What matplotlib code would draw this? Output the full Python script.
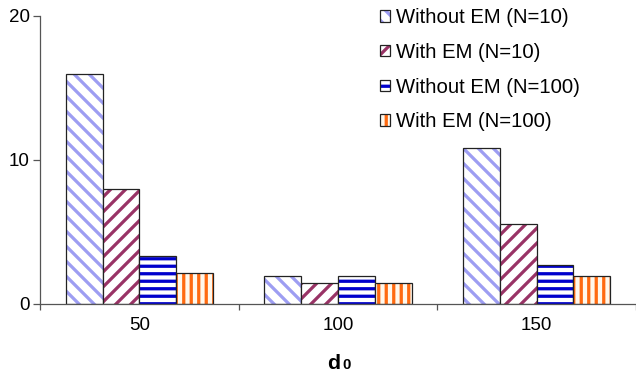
import numpy as np
import matplotlib
matplotlib.use('Agg')
import matplotlib.pyplot as plt
from matplotlib.patches import Patch
from matplotlib.legend_handler import HandlerTuple

plt.rcParams['font.family'] = ['Liberation Sans', 'DejaVu Sans']
plt.rcParams['hatch.linewidth'] = 2.6

# values per d0 group
d0 = ['50', '100', '150']
without_em_10 = [16.0, 1.9, 10.85]
with_em_10 = [7.95, 1.45, 5.5]
without_em_100 = [3.3, 1.9, 2.7]
with_em_100 = [2.15, 1.45, 1.9]

series = [
    ('Without EM (N=10)', without_em_10, '#9d9df2', 'white', '\\\\'),
    ('With EM (N=10)', with_em_10, '#993366', 'white', '//'),
    ('Without EM (N=100)', without_em_100, '#0000cc', 'white', '--'),
    ('With EM (N=100)', with_em_100, '#ff6a10', '#fff8ec', '||'),
]

DPI = 90
fig = plt.figure(figsize=(636 / DPI, 376 / DPI), dpi=DPI)
ax = fig.add_axes([40 / 636, 72.5 / 376, 596 / 636, 287.5 / 376])

x = np.arange(len(d0))
w = 0.185
handles = []
for i, (label, vals, hc, fc, hatch) in enumerate(series):
    pos = x + (i - 1.5) * w
    # hatch is coloured by the edge colour, so draw the outline separately
    ax.bar(pos, vals, w, color=fc, edgecolor=hc, hatch=hatch, linewidth=0)
    ax.bar(pos, vals, w, fill=False, edgecolor='#222222', linewidth=1.0)
    h1 = Patch(facecolor=fc, edgecolor=hc, hatch=hatch, linewidth=0)
    h2 = Patch(fill=False, edgecolor='#222222', linewidth=1.0)
    handles.append(((h1, h2), label))

ax.set_ylim(0, 20)
ax.set_xlim(-0.5, 2.48)
ax.set_yticks([0, 10, 20])
ax.set_xticks(x)
ax.set_xticklabels(d0)
ax.set_xticks([-0.5, 0.5, 1.5, 2.5], minor=True)

for s in ['top', 'right']:
    ax.spines[s].set_visible(False)
for s in ['left', 'bottom']:
    ax.spines[s].set_color('#555555')
    ax.spines[s].set_linewidth(1.0)

ax.tick_params(axis='y', length=5.5, width=1, color='#555555', pad=2.5, labelsize=15)
ax.tick_params(axis='x', which='major', length=0, pad=11, labelsize=15)
ax.tick_params(axis='x', which='minor', length=5, width=1, color='#555555')

# x axis title with subscript
fig.text(340 / 636, 7 / 376, 'd', fontsize=17, fontweight='bold', ha='right', va='baseline')
fig.text(342 / 636, 7 / 376, '0', fontsize=12, fontweight='bold', ha='left', va='baseline')

leg = fig.legend([h for h, _ in handles], [l for _, l in handles],
                 handler_map={tuple: HandlerTuple(ndivide=1)},
                 loc='upper left', bbox_to_anchor=(380 / 636, 1 - 8 / 376),
                 frameon=False, fontsize=16.2, handlelength=0.5, handleheight=0.5,
                 handletextpad=0.3, labelspacing=0.78, borderpad=0, borderaxespad=0)

fig.savefig('out.png', dpi=DPI)
